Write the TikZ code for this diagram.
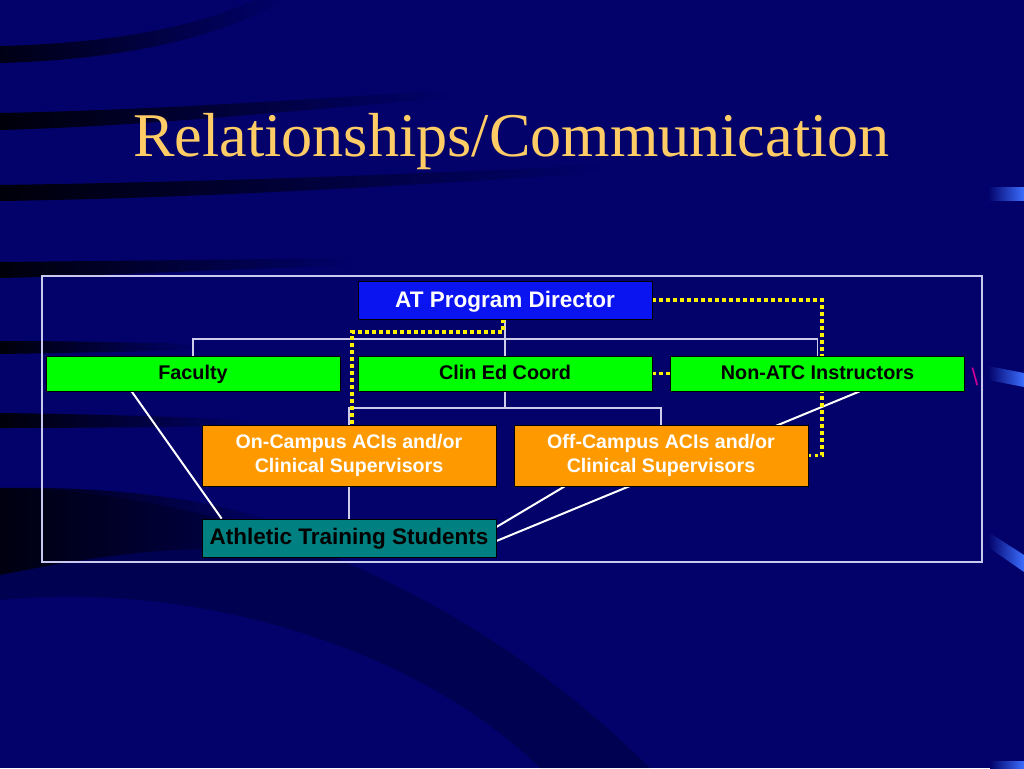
\documentclass[tikz,border=0pt]{standalone}
\usepackage{fontspec}
\setmainfont{Liberation Serif}
\newfontfamily\arialf{Liberation Sans}
\usetikzlibrary{fadings}
\pgfdeclarelayer{bg}
\pgfdeclarelayer{lines}
\pgfsetlayers{bg,lines,main}
\definecolor{navy}{RGB}{2,2,106}
\definecolor{pdblue}{RGB}{10,20,240}
\definecolor{grn}{RGB}{0,255,0}
\definecolor{orng}{RGB}{255,153,0}
\definecolor{tealc}{RGB}{0,128,128}
\definecolor{titlec}{RGB}{255,204,102}
\definecolor{orgline}{RGB}{205,205,235}
\definecolor{framec}{RGB}{200,200,240}
\definecolor{barblue}{RGB}{60,110,255}
\definecolor{mag}{RGB}{204,0,153}
\begin{document}
\begin{tikzpicture}[x=1pt,y=-1pt,
  box/.style={draw=black, line width=0.8pt, inner sep=0pt, minimum width=294pt, align=center},
  pdbox/.style={box, fill=pdblue, text=white, minimum height=38pt, text height=16.2pt, text depth=0.4pt, font=\arialf\bfseries\fontsize{22.5}{26}\selectfont},
  gbox/.style={box, fill=grn, text=black, minimum height=35pt, text height=14.3pt, text depth=1.5pt, font=\arialf\bfseries\fontsize{19.8}{24}\selectfont},
  obox/.style={box, fill=orng, text=white, minimum height=61pt, font=\arialf\bfseries\fontsize{19.6}{24}\selectfont},
  sbox/.style={box, fill=tealc, text=black, minimum height=38pt, text height=16.2pt, text depth=2.4pt, font=\arialf\bfseries\fontsize{22.5}{26}\selectfont},
  orgl/.style={draw=orgline, line width=1.2pt},
  diag/.style={draw=white, line width=2pt},
  ydot/.style={draw=yellow, line width=3.5pt, dash pattern=on 3.5pt off 3.5pt, line join=miter},
  band/.style={fill=black, path fading=east}
]
\useasboundingbox (0,0) rectangle (1024,768);

% ---------- background ----------
\begin{pgfonlayer}{bg}
\fill[navy] (0,0) rectangle (1024,768);
\fill[band, opacity=0.8] (0,46) .. controls (120,43) and (200,25) .. (255,0) -- (285,0) .. controls (220,38) and (120,60) .. (0,63) -- cycle;
\fill[band, opacity=0.9] (0,113) .. controls (150,110) and (300,100) .. (450,90) -- (450,98) .. controls (300,110) and (150,126) .. (0,130) -- cycle;
\fill[band, opacity=0.9] (0,185) .. controls (200,182) and (400,175) .. (600,165) -- (600,173) .. controls (400,186) and (200,198) .. (0,201) -- cycle;
\fill[band, opacity=0.9] (0,262) .. controls (100,261) and (200,260) .. (350,258) -- (350,266) .. controls (200,270) and (100,276) .. (0,278) -- cycle;
\fill[band, opacity=0.9] (0,341) .. controls (60,341) and (120,342) .. (200,344) -- (200,350) .. controls (120,352) and (60,353) .. (0,354) -- cycle;
\fill[band, opacity=0.9] (0,413) .. controls (80,414) and (160,416) .. (250,420) -- (250,426) .. controls (160,427) and (80,428) .. (0,428) -- cycle;
\fill[band, opacity=0.8] (0,488) .. controls (120,486) and (220,500) .. (300,530) -- (300,555) .. controls (200,540) and (100,555) .. (0,575) -- cycle;
\fill[black, opacity=0.22] (0,488) .. controls (250,492) and (480,600) .. (650,768) -- (540,768) .. controls (420,650) and (200,580) .. (0,600) -- cycle;
\shade[left color=navy, right color=barblue] (988,187) rectangle (1024,200);
\shade[left color=navy, right color=barblue] (988,366) -- (1024,373) -- (1024,387) -- (988,380) -- cycle;
\shade[left color=navy, right color=barblue] (988,532) -- (1024,555) -- (1024,572) -- (988,547) -- cycle;
\shade[left color=navy, right color=barblue] (990,761) rectangle (1024,768);
\end{pgfonlayer}

% ---------- title ----------
\node[anchor=base, text=titlec, font=\fontsize{62.2}{70}\selectfont, inner sep=0pt] (title) at (511.5,156) {Relationships/Communication};

% ---------- boxes ----------
\node[pdbox] (pd)   at (505,300)   {AT Program Director};
\node[gbox]  (fac)  at (193,373.5) {Faculty};
\node[gbox]  (ced)  at (505,373.5) {Clin Ed Coord};
\node[gbox]  (non)  at (817.5,373.5) {Non-ATC Instructors};
\node[obox]  (onc)  at (349,455.5) {On-Campus ACIs and/or\\Clinical Supervisors};
\node[obox]  (offc) at (661,455.5) {Off-Campus ACIs and/or\\Clinical Supervisors};
\node[sbox]  (ats)  at (349,538)   {Athletic Training Students};
\node[text=mag, font=\arialf\fontsize{24}{24}\selectfont, inner sep=0pt] (bs) at (975,377) {\textbackslash};

% ---------- connectors ----------
\begin{pgfonlayer}{lines}
\draw[draw=framec, line width=1.3pt] (42,276) rectangle (982,562);
\coordinate (j1) at (505,339);
\coordinate (j2) at (505,408);
\draw[orgl] (pd.south) -- (j1);
\draw[orgl] (j1) -| (fac.north);
\draw[orgl] (j1) -| (non.north);
\draw[orgl] (j1) -- (ced.north);
\draw[orgl] (ced.south) -- (j2);
\draw[orgl] (j2) -| (onc.north);
\draw[orgl] (j2) -| (offc.north);
\draw[orgl] (onc.south) -- (ats.north);
\draw[diag] ([xshift=86pt]fac.south west) -- ([xshift=20pt]ats.north west);
\draw[diag] ([xshift=51pt]offc.south west) -- ([yshift=11pt]ats.east);
\draw[diag] ([xshift=189.5pt]non.south west) -- ([yshift=-3pt]ats.east);
\coordinate (y1) at (822,300);
\coordinate (y2) at (352,332);
\draw[ydot] (pd.east) -- (y1) |- (offc.east);
\draw[ydot] ([xshift=-2pt]pd.south) |- (y2) -- ([xshift=3pt]onc.north);
\draw[ydot] (ced.east) -- (non.west);
\end{pgfonlayer}
\end{tikzpicture}
\end{document}
